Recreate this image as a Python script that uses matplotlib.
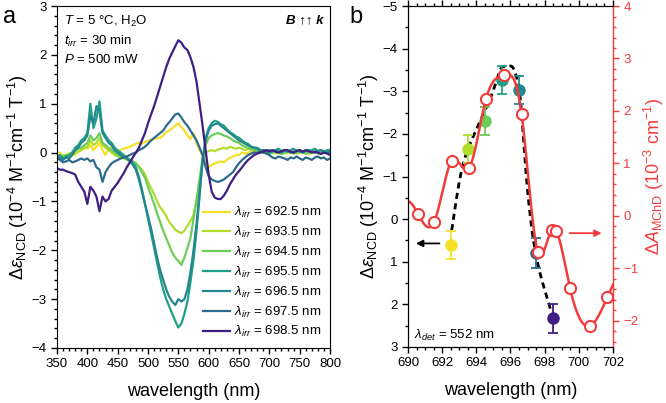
import numpy as np
import matplotlib
matplotlib.use('Agg')
import matplotlib.pyplot as plt
from matplotlib.ticker import MultipleLocator

plt.rcParams['font.family'] = ['Liberation Sans', 'DejaVu Sans']
plt.rcParams['mathtext.fontset'] = 'custom'
plt.rcParams['mathtext.rm'] = 'Liberation Sans'
plt.rcParams['mathtext.it'] = 'Liberation Sans:italic'
plt.rcParams['mathtext.bf'] = 'Liberation Sans:bold'

# ---------------- data: panel a -----------------
wavelength = np.arange(350, 801, 5)
irr_labels = ['692.5', '693.5', '694.5', '695.5', '696.5', '697.5', '698.5']
colors = ['#f5e02a', '#b4dc2c', '#6ccd5a', '#1fa187', '#24868e', '#2d6b8e', '#3f1f84']

ncd_6925 = [-0.05, 0.0, -0.08, -0.05, -0.02, 0.0, -0.05, 0.02, 0.05, 0.1,
            0.08, 0.15, 0.05, 0.12, 0.2, 0.05, -0.05, 0.08, 0.1, 0.05,
            0.0, 0.05, 0.08, 0.1, 0.12, 0.15, 0.18, 0.2, 0.18, 0.22,
            0.25, 0.24, 0.28, 0.3, 0.3, 0.35, 0.42, 0.45, 0.5, 0.55,
            0.6, 0.52, 0.45, 0.35, 0.28, 0.4, 0.2, 0.05, -0.05, -0.22,
            -0.3, -0.25, -0.22, -0.2, -0.18, -0.2, -0.15, -0.1, -0.08, -0.05,
            -0.05, 0.0, -0.02, 0.0, 0.02, 0.0, 0.03, 0.0, 0.02, 0.03,
            0.0, 0.02, 0.05, 0.0, 0.03, 0.05, 0.02, 0.0, 0.03, 0.02,
            0.05, 0.0, 0.02, 0.05, 0.02, 0.0, 0.03, 0.05, 0.02, 0.0, 0.02]
ncd_6935 = [-0.05, -0.1, -0.05, -0.08, -0.02, -0.05, 0.0, 0.02, 0.05, 0.1,
            0.12, 0.25, 0.15, 0.2, 0.3, 0.15, 0.1, 0.05, 0.0, -0.05,
            -0.08, -0.1, -0.12, -0.15, -0.15, -0.18, -0.22, -0.28, -0.35, -0.45,
            -0.6, -0.72, -0.85, -1.0, -1.12, -1.2, -1.3, -1.42, -1.5, -1.58,
            -1.62, -1.65, -1.6, -1.5, -1.4, -1.28, -1.0, -0.65, -0.2, 0.0,
            0.03, 0.05, 0.03, 0.06, 0.08, 0.1, 0.08, 0.12, 0.1, 0.08,
            0.1, 0.08, 0.05, 0.08, 0.05, 0.03, 0.05, 0.02, 0.0, 0.03,
            0.0, 0.02, -0.02, 0.0, 0.02, -0.02, 0.0, 0.02, 0.0, -0.02,
            0.0, 0.02, 0.0, -0.03, 0.0, 0.02, 0.0, -0.02, 0.0, 0.02, 0.0]
ncd_6945 = [-0.1, -0.05, -0.1, -0.05, -0.08, 0.0, 0.05, 0.08, 0.1, 0.15,
            0.2, 0.35, 0.25, 0.3, 0.4, 0.2, 0.15, 0.1, 0.05, 0.0,
            -0.05, -0.08, -0.1, -0.12, -0.15, -0.18, -0.22, -0.3, -0.4, -0.52,
            -0.7, -0.88, -1.05, -1.25, -1.42, -1.6, -1.75, -1.9, -2.05, -2.15,
            -2.22, -2.3, -2.15, -1.95, -1.75, -1.35, -0.95, -0.55, -0.1, 0.15,
            0.3, 0.35, 0.38, 0.4, 0.38, 0.35, 0.33, 0.3, 0.25, 0.22,
            0.2, 0.15, 0.12, 0.1, 0.08, 0.05, 0.05, 0.02, 0.03, 0.0,
            -0.02, 0.0, 0.02, 0.0, -0.03, 0.0, 0.02, 0.0, -0.02, 0.0,
            0.02, 0.0, -0.02, 0.0, 0.03, 0.0, -0.02, 0.0, 0.02, 0.0, 0.0]
ncd_6955 = [-0.1, -0.05, -0.12, -0.08, -0.05, 0.0, 0.1, 0.15, 0.25, 0.3,
            0.4, 1.0, 0.5, 0.7, 1.05, 0.45, 0.35, 0.25, 0.2, 0.1,
            0.05, 0.0, -0.05, -0.1, -0.15, -0.2, -0.3, -0.5, -0.75, -1.05,
            -1.35, -1.65, -1.95, -2.25, -2.55, -2.8, -3.0, -3.15, -3.3, -3.45,
            -3.58, -3.5, -3.3, -3.05, -2.65, -2.2, -1.6, -0.9, -0.15, 0.3,
            0.5, 0.6, 0.65, 0.63, 0.58, 0.55, 0.48, 0.42, 0.38, 0.33,
            0.3, 0.25, 0.2, 0.18, 0.12, 0.1, 0.1, 0.05, 0.05, 0.03,
            0.05, 0.02, 0.05, 0.08, 0.03, 0.05, 0.02, 0.05, 0.08, 0.03,
            0.05, 0.02, 0.05, 0.03, 0.05, 0.08, 0.03, 0.05, 0.02, 0.05, 0.05]
ncd_6965 = [-0.15, -0.1, -0.15, -0.1, -0.12, -0.05, 0.05, 0.1, 0.2, 0.25,
            0.35, 0.75, 0.6, 0.95, 0.85, 0.4, 0.3, 0.2, 0.15, 0.05,
            0.0, -0.05, -0.08, -0.12, -0.18, -0.25, -0.35, -0.55, -0.8, -1.05,
            -1.3, -1.55, -1.85, -2.15, -2.4, -2.6, -2.8, -2.95, -3.05, -3.12,
            -3.0, -3.05, -3.0, -2.8, -2.45, -2.0, -1.45, -0.8, -0.15, 0.25,
            0.45, 0.55, 0.58, 0.6, 0.55, 0.5, 0.45, 0.4, 0.35, 0.3,
            0.25, 0.22, 0.18, 0.15, 0.12, 0.1, 0.08, 0.05, 0.05, 0.03,
            0.0, 0.03, 0.05, 0.02, 0.0, 0.05, 0.03, 0.0, 0.02, 0.05,
            0.02, 0.0, 0.03, 0.05, 0.02, 0.0, 0.03, 0.05, 0.02, 0.0, 0.02]
ncd_6975 = [-0.1, -0.15, -0.2, -0.18, -0.15, -0.2, -0.18, -0.15, -0.12, -0.15,
            -0.12, -0.18, -0.15, -0.3, -0.35, -0.6, -0.4, -0.3, -0.22, -0.18,
            -0.15, -0.12, -0.1, -0.08, -0.05, -0.02, 0.0, 0.05, 0.08, 0.12,
            0.18, 0.25, 0.3, 0.35, 0.4, 0.45, 0.55, 0.62, 0.7, 0.78,
            0.8, 0.72, 0.62, 0.55, 0.45, 0.35, 0.25, 0.1, -0.05, -0.3,
            -0.48, -0.55, -0.58, -0.6, -0.58, -0.55, -0.5, -0.45, -0.4, -0.3,
            -0.22, -0.15, -0.1, -0.05, -0.02, 0.0, 0.0, 0.02, 0.0, -0.02,
            -0.05, -0.1, -0.12, -0.08, -0.1, -0.12, -0.15, -0.1, -0.12, -0.08,
            -0.12, -0.15, -0.1, -0.12, -0.15, -0.1, -0.08, -0.12, -0.1, -0.15, -0.12]
ncd_6985 = [-0.32, -0.35, -0.35, -0.38, -0.4, -0.42, -0.45, -0.6, -0.7, -0.8,
            -1.05, -0.7, -0.78, -0.9, -1.2, -0.9, -1.0, -0.95, -0.78, -0.7,
            -0.62, -0.52, -0.42, -0.3, -0.2, -0.1, 0.0, 0.1, 0.25, 0.4,
            0.6, 0.78, 0.95, 1.15, 1.35, 1.55, 1.75, 1.92, 2.05, 2.18,
            2.3, 2.25, 2.15, 2.1, 1.95, 1.75, 1.45, 1.0, 0.55, 0.05,
            -0.45, -0.8, -0.92, -0.95, -0.95, -0.88, -0.78, -0.65, -0.55, -0.45,
            -0.38, -0.3, -0.22, -0.15, -0.1, -0.05, -0.02, 0.0, 0.02, 0.05,
            0.03, 0.05, 0.02, 0.0, 0.03, 0.05, 0.05, 0.02, 0.0, 0.03,
            0.05, 0.02, 0.05, 0.03, 0.0, 0.02, 0.0, -0.03, 0.0, -0.02, -0.05]
spectra = [ncd_6925, ncd_6935, ncd_6945, ncd_6955, ncd_6965, ncd_6975, ncd_6985]

# ---------------- data: panel b -----------------
irr_wl = [692.5, 693.5, 694.5, 695.5, 696.5, 697.5, 698.5]
ncd_552 = [0.6, -1.65, -2.3, -3.27, -3.03, 0.8, 2.33]
ncd_err = [0.33, 0.33, 0.33, 0.33, 0.33, 0.35, 0.35]

fit_wl = [692.56, 693.14, 693.53, 694.12, 694.70, 695.19, 695.39, 695.78, 696.17,
          696.40, 696.56, 696.85, 697.14, 697.44, 697.73, 698.12, 698.41]
fit_ncd = [0.26, -1.15, -1.66, -2.21, -2.72, -3.26, -3.5, -3.58, -3.54,
           -3.26, -2.87, -1.38, -0.13, 0.73, 1.27, 1.82, 2.21]

mchd_wl = [690.6, 691.54, 692.56, 693.59, 694.57, 695.62, 696.65, 697.59,
           698.41, 698.66, 699.48, 700.65, 701.67]
mchd = [0.03, -0.11, 1.05, 0.92, 2.23, 2.68, 1.94, -0.68, -0.27, -0.28,
        -1.37, -2.10, -1.55]


def natural_spline(x, y, xs):
    x = np.asarray(x, float); y = np.asarray(y, float); xs = np.asarray(xs, float)
    n = len(x)
    h = np.diff(x)
    A = np.zeros((n, n)); r = np.zeros(n)
    A[0, 0] = 1; A[-1, -1] = 1
    for i in range(1, n - 1):
        A[i, i - 1] = h[i - 1]; A[i, i] = 2 * (h[i - 1] + h[i]); A[i, i + 1] = h[i]
        r[i] = 6 * ((y[i + 1] - y[i]) / h[i] - (y[i] - y[i - 1]) / h[i - 1])
    M = np.linalg.solve(A, r)
    idx = np.clip(np.searchsorted(x, xs) - 1, 0, n - 2)
    x0 = x[idx]; x1 = x[idx + 1]; hh = x1 - x0
    return (M[idx] * (x1 - xs) ** 3 / (6 * hh) + M[idx + 1] * (xs - x0) ** 3 / (6 * hh)
            + (y[idx] / hh - M[idx] * hh / 6) * (x1 - xs)
            + (y[idx + 1] / hh - M[idx + 1] * hh / 6) * (xs - x0))


red = '#f23c3c'
fig = plt.figure(figsize=(6.66, 4.03), dpi=100)
axa = fig.add_axes([0.0856, 0.1365, 0.4099, 0.8485])
axb = fig.add_axes([0.6126, 0.139, 0.3078, 0.846])


def style_ticks(ax, **kw):
    ax.tick_params(which='both', direction='out', labelsize=9.5, width=1, pad=3, **kw)
    ax.tick_params(which='major', length=4.5)
    ax.tick_params(which='minor', length=2.5)


# ---- panel a
for lab, col, vals in zip(irr_labels, colors, spectra):
    axa.plot(wavelength, vals, color=col, lw=1.6,
             label=r'$\mathit{λ}_{\mathit{irr}}$ = ' + lab + ' nm')
axa.set_xlim(350, 800)
axa.set_ylim(-4, 3)
axa.xaxis.set_major_locator(MultipleLocator(50))
axa.xaxis.set_minor_locator(MultipleLocator(10))
axa.yaxis.set_major_locator(MultipleLocator(1))
axa.yaxis.set_minor_locator(MultipleLocator(0.2))
style_ticks(axa)
axa.set_xlabel('wavelength (nm)', fontsize=13, labelpad=9)
axa.set_ylabel(r'$\mathit{Δε}_{\mathrm{NCD}}$ (10$^{-4}$ M$^{-1}$cm$^{-1}$ T$^{-1}$)', fontsize=13, labelpad=1)
leg = axa.legend(loc='lower right', bbox_to_anchor=(1.0, 0.0), frameon=False, fontsize=9.5,
                 handlelength=2.05, labelspacing=0.36, handletextpad=0.3, borderaxespad=0.25)
axa.text(0.025, 0.978, r'$\mathit{T}$ = 5 °C, H$_2$O', transform=axa.transAxes, fontsize=9.5, va='top')
axa.text(0.025, 0.92, r'$\mathit{t}_{\mathit{irr}}$ = 30 min', transform=axa.transAxes, fontsize=9.5, va='top')
axa.text(0.025, 0.862, r'$\mathit{P}$ = 500 mW', transform=axa.transAxes, fontsize=9.5, va='top')
axa.text(0.975, 0.975, 'B ↑↑ k', transform=axa.transAxes, fontsize=9.5, va='top', ha='right',
         fontweight='bold', style='italic')
fig.text(0.005, 0.985, 'a', fontsize=17, va='top')

# ---- panel b
fit_x = np.linspace(fit_wl[0], fit_wl[-1], 200)
axb.plot(fit_x, natural_spline(fit_wl, fit_ncd, fit_x),
         color='black', lw=2, ls=(0, (2.2, 1.6)), zorder=2)
for xw, yv, e, col in zip(irr_wl, ncd_552, ncd_err, colors):
    axb.errorbar(xw, yv, yerr=e, fmt='o', color=col, ms=8, capsize=3.5, elinewidth=1.3,
                 capthick=1.3, zorder=3)
axb.set_xlim(690, 702)
axb.set_ylim(3, -5)
axb.xaxis.set_major_locator(MultipleLocator(2))
axb.xaxis.set_minor_locator(MultipleLocator(0.5))
axb.yaxis.set_major_locator(MultipleLocator(1))
axb.yaxis.set_minor_locator(MultipleLocator(0.5))
style_ticks(axb)
axb.tick_params(axis='x', which='both', top=True)
axb.set_xlabel('wavelength (nm)', fontsize=13, labelpad=9)
axb.set_ylabel(r'$\mathit{Δε}_{\mathrm{NCD}}$ (10$^{-4}$ M$^{-1}$cm$^{-1}$ T$^{-1}$)', fontsize=13, labelpad=1)
axb.annotate('', xy=(690.3, 0.57), xytext=(692.0, 0.57),
             arrowprops=dict(arrowstyle='-|>', color='black', lw=1.3, mutation_scale=10))
axb.text(690.35, 2.8, r'$\mathit{λ}_{\mathit{det}}$ = 552 nm', fontsize=9.5, va='baseline')
axb.spines['right'].set_visible(False)

axr = axb.twinx()
xs = np.linspace(690, 702, 400)
axr.plot(xs, natural_spline(mchd_wl, mchd, xs), color=red, lw=1.8, zorder=2)
axr.plot(mchd_wl, mchd, 'o', ms=8, mfc='white', mec=red, mew=1.5, zorder=3)
axr.set_ylim(-2.5, 4)
axr.set_xlim(690, 702)
axr.yaxis.set_major_locator(MultipleLocator(1))
axr.yaxis.set_minor_locator(MultipleLocator(0.2))
style_ticks(axr, colors=red)
axr.spines['right'].set_color(red)
axr.spines['right'].set_linewidth(1)
axr.set_ylabel(r'$\mathit{ΔA}_{\mathrm{MChD}}$ (10$^{-3}$ cm$^{-1}$)', fontsize=13, color=red,
               rotation=90, labelpad=2)
axr.annotate('', xy=(701.5, -0.33), xytext=(699.3, -0.33),
             arrowprops=dict(arrowstyle='-|>', color=red, lw=1.3, mutation_scale=10))
fig.text(0.525, 0.985, 'b', fontsize=17, va='top')

fig.savefig('out.png', dpi=100)
